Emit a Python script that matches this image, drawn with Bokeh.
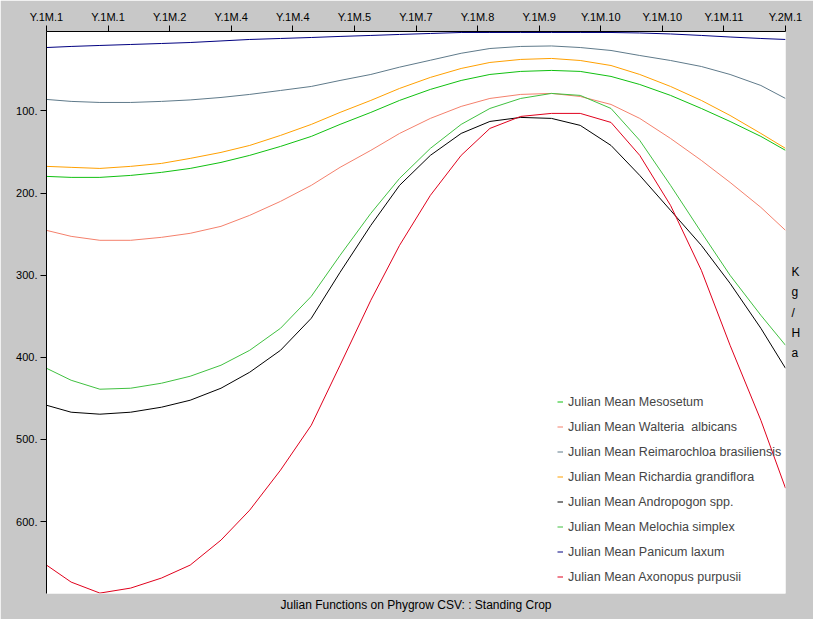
from bokeh.plotting import figure
from bokeh.models import Range1d, FixedTicker, Legend, LegendItem, Title, LinearAxis
from bokeh.embed import file_html
from bokeh.resources import INLINE

# Julian day of each sampled point (x axis spans one year, ticks every 30 days)
days = [0, 12, 26, 41, 56, 70, 85, 99, 114, 129, 143, 158, 172, 187, 202, 216,
        231, 246, 260, 275, 289, 304, 319, 333, 348, 360]

# Standing crop (Kg/Ha)
panicum_laxum = [22.8, 21.5, 20.3, 19.1, 17.9, 16.7, 14.8, 13.0, 11.8, 10.6, 9.3, 8.1, 6.9,
                 5.7, 4.5, 4.5, 4.5, 4.5, 4.5, 4.5, 5.1, 6.3, 8.1, 10.0, 11.8, 13.0]
reimarochloa = [86.0, 88.4, 89.7, 89.7, 88.4, 86.6, 83.6, 79.9, 75.1, 70.2, 62.9, 55.6, 46.7,
                38.3, 29.8, 24.0, 21.5, 20.9, 22.8, 26.4, 32.5, 38.6, 45.9, 55.6, 69.0, 84.8]
richardia = [167.5, 168.7, 170.0, 167.5, 163.9, 157.8, 150.5, 142.0, 129.8, 116.4, 101.8, 87.2,
             72.6, 59.2, 48.3, 41.0, 37.3, 36.1, 38.6, 44.7, 55.6, 70.2, 87.2, 105.5, 127.4, 145.6]
mesosetum = [179.7, 180.9, 180.9, 178.5, 174.8, 170.0, 162.7, 154.1, 143.2, 131.0, 116.4, 101.8,
             87.2, 73.8, 62.9, 55.6, 51.9, 50.7, 51.9, 58.0, 67.8, 81.1, 97.0, 112.8, 131.0, 148.0]
waltheria = [245.4, 252.7, 257.5, 257.5, 253.9, 249.0, 240.5, 227.1, 210.1, 190.6, 168.7, 148.0,
             127.4, 109.1, 94.5, 84.8, 79.9, 78.7, 82.4, 92.1, 109.1, 133.5, 160.2, 187.0, 217.4, 245.4]
melochia = [413.3, 427.9, 438.8, 437.6, 431.5, 423.0, 409.6, 391.4, 364.6, 325.7, 275.8, 224.7,
            182.1, 145.6, 116.4, 97.0, 84.8, 78.7, 81.1, 97.0, 135.9, 190.6, 247.8, 300.1, 348.8, 385.3]
andropogon = [458.3, 466.8, 469.2, 466.8, 460.7, 452.2, 437.6, 418.1, 391.4, 352.4, 296.5, 239.3,
              190.6, 154.1, 127.4, 112.8, 107.9, 109.1, 117.6, 142.0, 178.5, 221.0, 263.6, 309.9, 364.6, 413.3]
axonopus = [652.9, 673.6, 687.0, 680.9, 668.7, 652.9, 622.5, 586.0, 537.3, 482.6, 409.6, 330.5,
            263.6, 202.8, 154.1, 121.3, 106.7, 103.0, 103.0, 114.0, 154.1, 215.0, 294.0, 385.3, 476.6, 559.3]

tick_days = [0, 30, 60, 90, 120, 150, 180, 210, 240, 270, 300, 330, 360]
tick_labels = ["Y.1M.1", "Y.1M.1", "Y.1M.2", "Y.1M.4", "Y.1M.4", "Y.1M.5", "Y.1M.7",
               "Y.1M.8", "Y.1M.9", "Y.1M.10", "Y.1M.10", "Y.1M.11", "Y.2M.1"]
y_ticks = [100, 200, 300, 400, 500, 600]
y_labels = ["100.", "200.", "300.", "400.", "500.", "600."]

series_names = ["Julian Mean Mesosetum", "Julian Mean Walteria  albicans",
                "Julian Mean Reimarochloa brasiliensis", "Julian Mean Richardia grandiflora",
                "Julian Mean Andropogon spp.", "Julian Mean Melochia simplex",
                "Julian Mean Panicum laxum", "Julian Mean Axonopus purpusii"]
series_values = [mesosetum, waltheria, reimarochloa, richardia, andropogon, melochia,
                 panicum_laxum, axonopus]
series_colors = ["#10c010", "#f4806c", "#5f7a8a", "#ffa000", "#000000", "#40c040",
                 "#000080", "#e0001c"]

title_text = "Julian Functions on Phygrow CSV: : Standing Crop"
unit_text = "K\ng\n/\nH\na"

FONT = "Liberation Sans"
GREY = "#c8c8c8"

p = figure(width=813, height=619, output_backend="svg", toolbar_location=None,
           x_range=Range1d(0, 360), y_range=Range1d(687.5, 3.3),
           x_axis_location="above", y_axis_location="left",
           min_border_left=46, min_border_right=28, min_border_top=31, min_border_bottom=26)
p.background_fill_color = "white"
p.border_fill_color = GREY
p.outline_line_color = None
p.grid.visible = False

for ax in (p.xaxis[0], p.yaxis[0]):
    ax.major_tick_out = 6
    ax.major_tick_in = 0
    ax.minor_tick_out = 0
    ax.minor_tick_in = 0
    ax.axis_line_color = "black"
    ax.major_tick_line_color = "black"
    ax.major_label_text_font = FONT
    ax.major_label_text_font_size = "11px"
    ax.major_label_text_color = "black"
    ax.major_label_standoff = 3

p.xaxis[0].ticker = FixedTicker(ticks=tick_days)
p.xaxis[0].major_label_overrides = {t: l for t, l in zip(tick_days, tick_labels)}
p.yaxis[0].ticker = FixedTicker(ticks=y_ticks)
p.yaxis[0].major_label_overrides = {t: l for t, l in zip(y_ticks, y_labels)}

# unit label on the right, letters stacked
right_axis = LinearAxis(ticker=FixedTicker(ticks=[]), axis_line_color=None,
                        major_tick_line_color=None, minor_tick_line_color=None,
                        major_label_text_font_size="0px",
                        axis_label=unit_text, axis_label_orientation="horizontal",
                        axis_label_standoff=6, axis_label_text_font=FONT,
                        axis_label_text_font_size="12px", axis_label_text_font_style="normal",
                        axis_label_text_color="black", axis_label_text_line_height=1.45)
p.add_layout(right_axis, "right")

items = []
for name, vals, col in zip(series_names, series_values, series_colors):
    r = p.line(days, vals, line_color=col, line_width=1)
    items.append(LegendItem(label=name, renderers=[r]))

legend = Legend(items=items, location=(511, 9), glyph_width=6, glyph_height=15,
                label_height=15, spacing=10, padding=0, margin=0, label_standoff=5,
                background_fill_alpha=0, border_line_alpha=0,
                label_text_font=FONT, label_text_font_size="12.5px")
p.add_layout(legend)

p.add_layout(Title(text=title_text, align="center", text_font=FONT, text_font_size="12px",
                   text_font_style="normal", text_color="black", standoff=4), "below")

open("out.html", "w").write(file_html(p, INLINE))
